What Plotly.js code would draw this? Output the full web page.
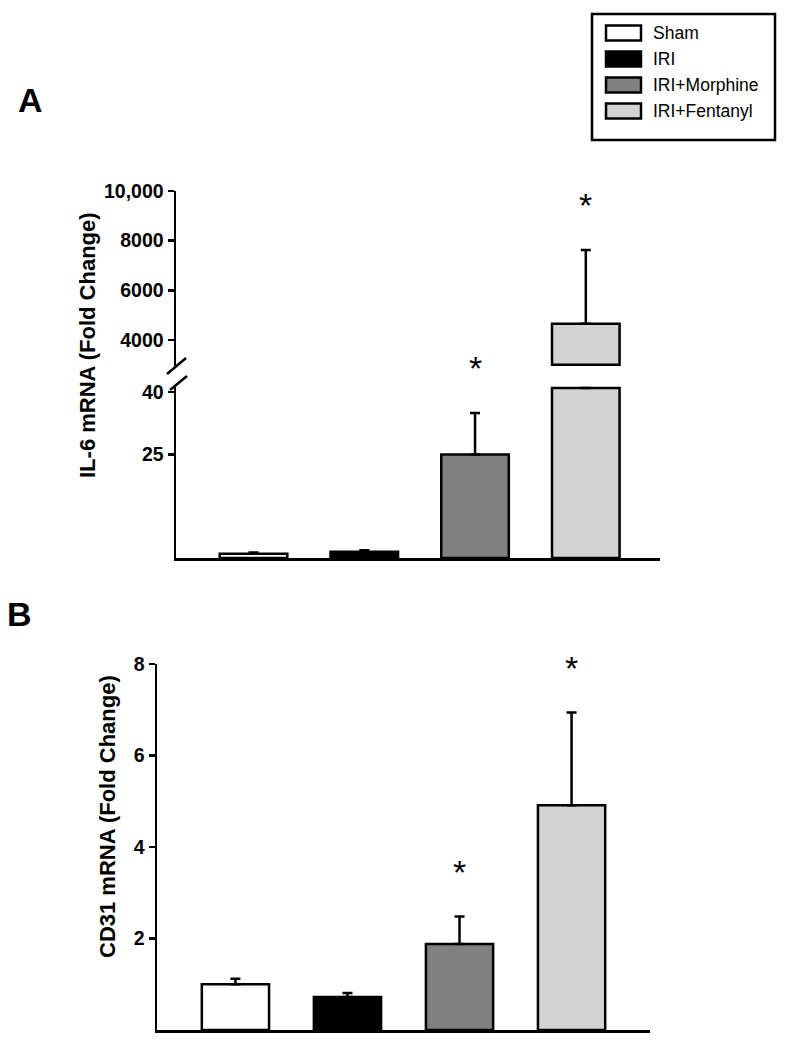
<!DOCTYPE html>
<html>
<head>
<meta charset="utf-8">
<script src="https://cdn.plot.ly/plotly-3.0.1.min.js"></script>
<style>html,body{margin:0;padding:0;background:#fff;}#chart{width:787px;height:1047px;}</style>
</head>
<body>
<div id="chart"></div>
<script>
// ---------- data ----------
const categories = ['Sham', 'IRI', 'IRI+Morphine', 'IRI+Fentanyl'];
const barColors = ['#ffffff', '#000000', '#808080', '#d3d3d3'];
const il6Mean = [1.0, 1.5, 25, 4650];
const il6Sem = [0.3, 0.4, 10, 2970];
const cd31Mean = [1.0, 0.72, 1.88, 4.91];
const cd31Sem = [0.12, 0.09, 0.60, 2.03];
const significant = [false, false, true, true];
const il6LowerTicks = [25, 40];
const il6UpperTicks = [4000, 6000, 8000, 10000];
const il6UpperTickText = ['4000', '6000', '8000', '10,000'];
const cd31Ticks = [2, 4, 6, 8];

// ---------- layout helpers ----------
const W = 787, H = 1047;
const px = x => x / W;
const py = y => 1 - y / H;
const FONT = 'Liberation Sans, Arial, Helvetica, sans-serif';
const lowerTop = 41;      // break point of IL-6 lower segment
const upperBase = 3000;   // start of IL-6 upper segment

const barLine = {color: '#000', width: 2.5};
const errStyle = {type: 'data', symmetric: false, color: '#000', thickness: 2.5, width: 5};

// IL-6 lower segment
const lowerVals = il6Mean.map(v => Math.min(v, lowerTop));
const lowerErr = il6Mean.map((v, i) => v > lowerTop ? NaN : il6Sem[i]);
// IL-6 upper segment
const upperVals = il6Mean.map(v => v > lowerTop ? v - upperBase : null);
const upperErr = il6Mean.map((v, i) => v > lowerTop ? il6Sem[i] : NaN);

const traces = [
  {type: 'bar', x: categories, y: lowerVals, xaxis: 'x', yaxis: 'y', width: 0.61,
   marker: {color: barColors, line: barLine},
   error_y: Object.assign({}, errStyle, {array: lowerErr, arrayminus: categories.map(() => 0)})},
  {type: 'bar', x: categories, y: upperVals, base: upperBase, xaxis: 'x', yaxis: 'y2', width: 0.61,
   marker: {color: barColors, line: barLine},
   error_y: Object.assign({}, errStyle, {array: upperErr, arrayminus: categories.map(() => 0)})},
  {type: 'bar', x: categories, y: cd31Mean, xaxis: 'x3', yaxis: 'y3', width: 0.6,
   marker: {color: barColors, line: barLine},
   error_y: Object.assign({}, errStyle, {array: cd31Sem, arrayminus: categories.map(() => 0)})}
];

const tickFont = {family: FONT, size: 19.5, color: '#000', weight: 'bold'};
const yBase = {
  showline: true, linewidth: 2.5, linecolor: '#000', ticks: 'outside', ticklen: 6, tickwidth: 2.5,
  tickcolor: '#000', showgrid: false, zeroline: false, tickfont: tickFont, fixedrange: true
};
const xBase = {
  type: 'category', showline: true, linewidth: 2.5, linecolor: '#000', ticks: '', showticklabels: false,
  showgrid: false, zeroline: false, fixedrange: true
};

const annotations = [];
const shapes = [];

// asterisks
categories.forEach((c, i) => {
  if (!significant[i]) return;
  const top = il6Mean[i] + il6Sem[i];
  annotations.push({x: c, xref: 'x', y: top,
    yref: il6Mean[i] > lowerTop ? 'y2' : 'y', yshift: 45, text: '*', showarrow: false,
    font: {family: FONT, size: 34, color: '#000'}, yanchor: 'middle'});
  annotations.push({x: c, xref: 'x3', y: cd31Mean[i] + cd31Sem[i], yref: 'y3', yshift: 45,
    text: '*', showarrow: false, font: {family: FONT, size: 34, color: '#000'}, yanchor: 'middle'});
});

// axis titles
annotations.push({x: px(87), y: py(345), xref: 'paper', yref: 'paper', text: 'IL-6 mRNA (Fold Change)',
  textangle: -90, showarrow: false, font: {family: FONT, size: 22, color: '#000', weight: 'bold'},
  xanchor: 'center', yanchor: 'middle'});
annotations.push({x: px(107), y: py(817), xref: 'paper', yref: 'paper', text: 'CD31 mRNA (Fold Change)',
  textangle: -90, showarrow: false, font: {family: FONT, size: 22, color: '#000', weight: 'bold'},
  xanchor: 'center', yanchor: 'middle'});

// panel letters
annotations.push({x: px(30), y: py(100), xref: 'paper', yref: 'paper', text: 'A', showarrow: false,
  font: {family: FONT, size: 34, color: '#000', weight: 'bold'}, xanchor: 'center', yanchor: 'middle'});
annotations.push({x: px(19), y: py(614), xref: 'paper', yref: 'paper', text: 'B', showarrow: false,
  font: {family: FONT, size: 34, color: '#000', weight: 'bold'}, xanchor: 'center', yanchor: 'middle'});

// axis break marks
shapes.push({type: 'line', xref: 'paper', yref: 'paper', x0: px(167), y0: py(374), x1: px(186), y1: py(358),
  line: {color: '#000', width: 2.5}});
shapes.push({type: 'line', xref: 'paper', yref: 'paper', x0: px(170), y0: py(390), x1: px(187), y1: py(376),
  line: {color: '#000', width: 2.5}});

// legend (built from categories / colours)
shapes.push({type: 'rect', xref: 'paper', yref: 'paper', x0: px(592), y0: py(140), x1: px(775), y1: py(14),
  line: {color: '#000', width: 2.5}, fillcolor: 'rgba(0,0,0,0)'});
categories.forEach((c, i) => {
  const yc = 33 + i * 26;
  shapes.push({type: 'rect', xref: 'paper', yref: 'paper', x0: px(606), x1: px(641), y0: py(yc + 7.5), y1: py(yc - 7.5),
    line: {color: '#000', width: 2.5}, fillcolor: barColors[i]});
  annotations.push({x: px(651), y: py(yc), xref: 'paper', yref: 'paper', text: c, showarrow: false,
    xanchor: 'left', yanchor: 'middle', font: {family: FONT, size: 17.5, color: '#000'}});
});

const layout = {
  width: W, height: H, margin: {l: 0, r: 0, t: 0, b: 0},
  paper_bgcolor: '#fff', plot_bgcolor: 'rgba(0,0,0,0)', showlegend: false, bargap: 0.39,
  xaxis: Object.assign({}, xBase, {domain: [px(176), px(660)], range: [-0.7, 3.67], anchor: 'y'}),
  yaxis: Object.assign({}, yBase, {domain: [py(558), py(386)], range: [0, 41.5], tickvals: il6LowerTicks,
    ticktext: il6LowerTicks.map(String), anchor: 'x'}),
  yaxis2: Object.assign({}, yBase, {domain: [py(366), py(191)], range: [2950, 10000], tickvals: il6UpperTicks,
    ticktext: il6UpperTickText, anchor: 'x'}),
  xaxis3: Object.assign({}, xBase, {domain: [px(157), px(650)], range: [-0.7, 3.7], anchor: 'y3'}),
  yaxis3: Object.assign({}, yBase, {domain: [py(1030), py(664)], range: [0, 8], tickvals: cd31Ticks,
    ticktext: cd31Ticks.map(String), anchor: 'x3'}),
  annotations: annotations,
  shapes: shapes
};

Plotly.newPlot('chart', traces, layout, {staticPlot: true, displayModeBar: false});
</script>
</body>
</html>
